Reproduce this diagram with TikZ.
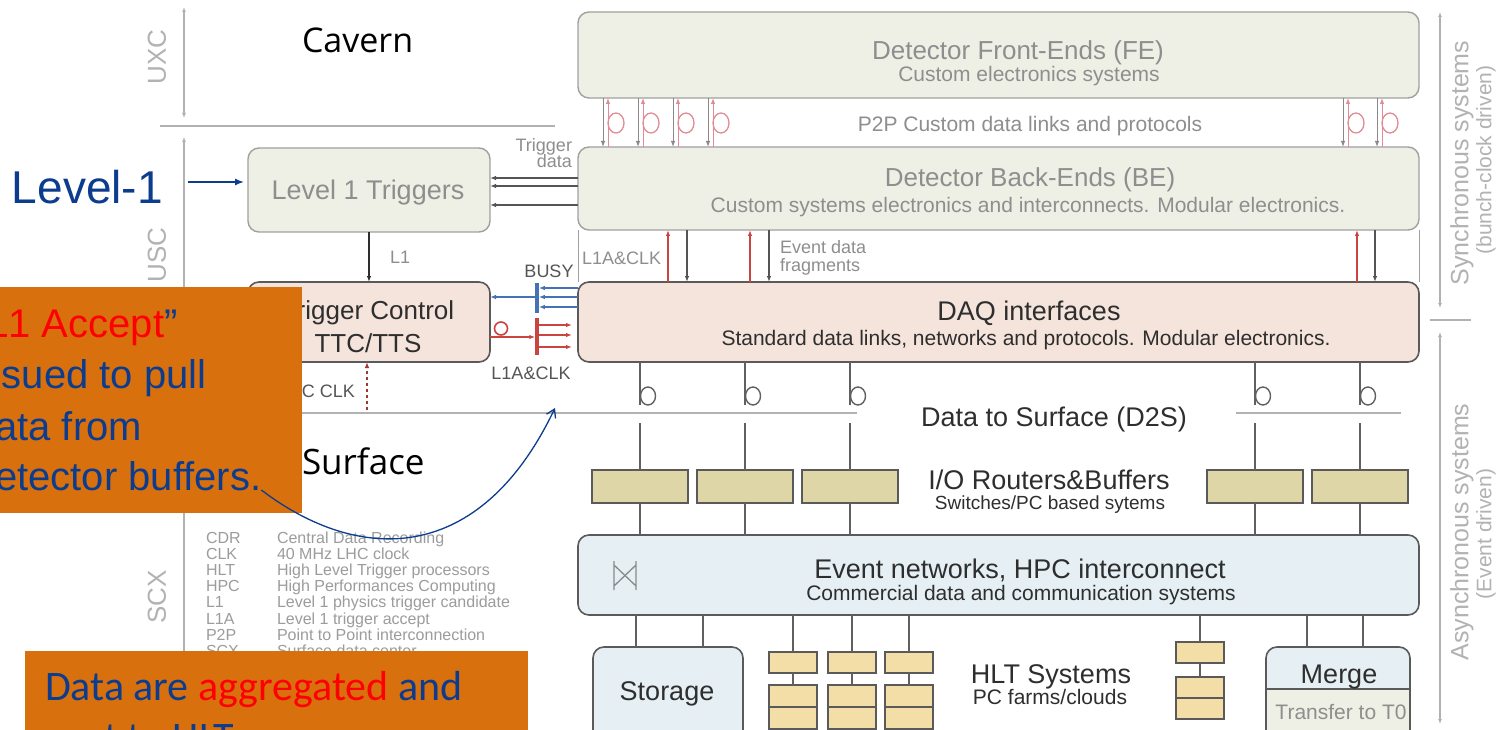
\documentclass[tikz,border=0pt]{standalone}
\usepackage{fontspec}
\setmainfont{Liberation Sans}
\newfontfamily\titlefont{Open Sans}
\newfontfamily\slidefont{Carlito}
\usetikzlibrary{arrows.meta,calc}

\definecolor{sage}{HTML}{EEF0E5}
\definecolor{sageedge}{HTML}{A0A0A0}
\definecolor{rose}{HTML}{F4E4DB}
\definecolor{darkedge}{HTML}{5A5A5A}
\definecolor{routerfill}{HTML}{DED6A6}
\definecolor{nodefill}{HTML}{F3DEA8}
\definecolor{paleblue}{HTML}{E6F0F4}
\definecolor{fadetext}{HTML}{8E8E8E}
\definecolor{darktext}{HTML}{2E2E2E}
\definecolor{labeltext}{HTML}{555555}
\definecolor{axisgray}{HTML}{B2B2B2}
\definecolor{legendgray}{HTML}{9C9C9C}
\definecolor{wire}{HTML}{606060}
\definecolor{linkgray}{HTML}{8A8A8A}
\definecolor{clkred}{HTML}{C9453F}
\definecolor{fibrered}{HTML}{E08C96}
\definecolor{busyblue}{HTML}{4472B4}
\definecolor{navy}{HTML}{0C3C8E}
\definecolor{slideorange}{HTML}{D9700E}
\definecolor{hotred}{HTML}{FF0000}

\newcommand\textpt[1]{\fontsize{#1}{#1}\selectfont}

\begin{document}
\begin{tikzpicture}[x=1pt,y=-1pt,
  every node/.style={inner sep=0pt,outer sep=0pt},
  >={Latex[length=6pt,width=4.5pt]},
  panel/.style={draw=sageedge,fill=sage,line width=1.4pt,rounded corners=11pt,anchor=north west},
  rosepanel/.style={draw=darkedge,fill=rose,line width=1.6pt,rounded corners=11pt,anchor=north west},
  bluepanel/.style={draw=darkedge,fill=paleblue,line width=1.6pt,rounded corners=11pt,anchor=north west},
  router/.style={draw=darkedge,fill=routerfill,line width=1.4pt,minimum width=96pt,minimum height=33pt},
  cpu/.style={draw=darkedge,fill=nodefill,line width=1.2pt,minimum width=48pt,minimum height=21pt},
  wirestyle/.style={draw=wire,line width=1.8pt},
  zoneaxis/.style={draw=axisgray,line width=1.3pt,arrows={Latex[length=5pt,width=4pt]-Latex[length=5pt,width=4pt]}},
  zone/.style={text=axisgray,font=\textpt{26},rotate=90},
  headfade/.style={text=fadetext,font=\textpt{26},anchor=base},
  subfade/.style={text=fadetext,font=\textpt{21},anchor=base},
  headdark/.style={text=darktext,font=\textpt{27},anchor=base},
  subdark/.style={text=darktext,font=\textpt{21},anchor=base},
  tag/.style={text=fadetext,font=\textpt{18}},
  darktag/.style={text=labeltext,font=\textpt{18}},
]
\useasboundingbox (0,0) rectangle (1497,730);
\fill[white] (0,0) rectangle (1497,730);

% ---------- zone markers on the left ----------
\draw[zoneaxis] (184,7) -- (184,118);
\draw[zoneaxis] (184,137) -- (184,404);
\draw[zoneaxis] (184,422) -- (184,724);
\draw[draw=axisgray,line width=1.5pt] (160,126) -- (555,126);
\draw[draw=axisgray,line width=1.5pt] (160,413) -- (857,413);
\draw[draw=axisgray,line width=1.5pt] (1236,413) -- (1401,413);
\node[zone] (uxc) at (157,57) {UXC};
\node[zone] (usc) at (157,255) {USC};
\node[zone] (scx) at (157,597) {SCX};
\node[anchor=base west,font=\titlefont\textpt{34}] (cavern) at (302,53) {Cavern};
\node[anchor=base west,font=\titlefont\textpt{35}] (surface) at (302,474) {Surface};

% ---------- zone markers on the right ----------
\draw[zoneaxis] (1440,12) -- (1440,308);
\draw[draw=axisgray,line width=1.5pt] (1430,320) -- (1471,320);
\draw[zoneaxis] (1440,332) -- (1440,724);
\node[rotate=90,text=axisgray,font=\textpt{25}] (sync) at (1462,163) {Synchronous systems};
\node[rotate=90,text=axisgray,font=\textpt{21}] (syncsub) at (1486,160) {(bunch-clock driven)};
\node[rotate=90,text=axisgray,font=\textpt{25}] (async) at (1462,532) {Asynchronous systems};
\node[rotate=90,text=axisgray,font=\textpt{21}] (asyncsub) at (1486,534) {(Event driven)};

% ---------- main panels ----------
\node[panel,minimum width=841pt,minimum height=86pt] (fe) at (578,12) {};
\node[panel,minimum width=841pt,minimum height=83pt] (be) at (578,147) {};
\node[panel,minimum width=242pt,minimum height=84pt] (l1t) at (248,148) {};
\node[rosepanel,minimum width=242pt,minimum height=80pt] (ttc) at (248,282) {};
\node[rosepanel,minimum width=841pt,minimum height=80pt] (daq) at (578,282) {};
\node[bluepanel,minimum width=841pt,minimum height=80pt] (evn) at (578,535) {};
\node[bluepanel,minimum width=150pt,minimum height=100pt] (storage) at (593,647) {};
\node[bluepanel,minimum width=144pt,minimum height=100pt] (merge) at (1266,647) {};
\node[draw=darkedge,fill=sage,line width=1.4pt,anchor=north west,minimum width=144pt,minimum height=60pt] (mergelow) at (1266,689) {};
\draw[draw=sageedge,line width=1pt] (be.south west) -- (daq.north west);
\draw[draw=sageedge,line width=1pt] (be.south east) -- (daq.north east);

% panel texts
\node[headfade] (fetitle) at (1018,60) {Detector Front-Ends (FE)};
\node[subfade] (fesub) at (1029,82) {Custom electronics systems};
\node[subfade] (p2p) at (1030,132) {P2P Custom data links and protocols};
\node[headfade] (betitle) at (1030,187) {Detector Back-Ends (BE)};
\node[subfade] (besub) at (1028,213) {Custom systems electronics and interconnects. Modular electronics.};
\node[headfade,font=\textpt{27}] (l1title) at (368,200) {Level 1 Triggers};
\node[headdark,font=\textpt{26}] (ttc1) at (368,319) {Trigger Control};
\node[headdark,font=\textpt{26}] (ttc2) at (368,352) {TTC/TTS};
\node[headdark] (daqtitle) at (1029,320) {DAQ interfaces};
\node[subdark] (daqsub) at (1026,345) {Standard data links, networks and protocols. Modular electronics.};
\node[headdark] (d2s) at (1054,426) {Data to Surface (D2S)};
\node[headdark] (iotitle) at (1049,489) {I/O Routers\&Buffers};
\node[subdark,font=\textpt{19}] (iosub) at (1050,509) {Switches/PC based sytems};
\node[headdark] (evntitle) at (1020,578) {Event networks, HPC interconnect};
\node[subdark] (evnsub) at (1021,600) {Commercial data and communication systems};
\node[headdark] (hlttitle) at (1051,683) {HLT Systems};
\node[subdark] (hltsub) at (1050,704) {PC farms/clouds};
\node[headdark] (storagetxt) at (667,700) {Storage};
\node[headdark] (mergetxt) at (1339,683) {Merge};
\node[subfade] (t0txt) at (1341,719) {Transfer to T0};

% switch symbol in the event network
\draw[draw=linkgray,line width=1.3pt] (614,561) -- (614,590) (636,561) -- (636,590)
  (614,565) -- (636,586) (614,586) -- (636,565);

% ---------- P2P links FE <-> BE ----------
\foreach \x in {603,638,673,708,1343,1377} {
  \coordinate (pg\x) at (\x,0);
  \coordinate (pr\x) at (\x+5,0);
  \draw[draw=linkgray,line width=1pt,->] (fe.south -| pg\x) -- (be.north -| pg\x);
  \draw[draw=fibrered,line width=1pt,->] (be.north -| pr\x) -- (fe.south -| pr\x);
  \draw[draw=fibrered,line width=1.3pt] (\x+13,123) ellipse [x radius=8,y radius=10];
}

% ---------- BE <-> DAQ ----------
\foreach \x in {668,750,1357} {
  \coordinate (cu\x) at (\x,0);
  \draw[draw=clkred,line width=1.8pt,->] (daq.north -| cu\x) -- (be.south -| cu\x);
}
\foreach \x in {687,769,1375} {
  \coordinate (cd\x) at (\x,0);
  \draw[draw=labeltext,line width=1.5pt,->] (be.south -| cd\x) -- (daq.north -| cd\x);
}
\node[tag,anchor=base west] (l1aclk) at (582,265) {L1A\&CLK};
\node[tag,anchor=base west] (evd1) at (780,254) {Event data};
\node[tag,anchor=base west] (evd2) at (780,272) {fragments};

% ---------- trigger data BE -> Level 1 ----------
\foreach \y in {178,186,205} {
  \coordinate (td\y) at (0,\y);
  \draw[draw=labeltext,line width=1.3pt,->] (be.west |- td\y) -- (l1t.east |- td\y);
}
\node[tag,anchor=base east] (trg1) at (572,152) {Trigger};
\node[tag,anchor=base east] (trg2) at (572,168) {data};

% L1 accept path
\draw[draw=darktext,line width=1.5pt,->] (l1t.south) -- (ttc.north);
\node[tag,anchor=base west] (l1lbl) at (390,264) {L1};

% ---------- BUSY ----------
\node[fill=busyblue,minimum width=3.5pt,minimum height=30pt] (busybar) at (537,298) {};
\foreach \y in {288,297,307} {
  \coordinate (by\y) at (0,\y);
  \draw[draw=busyblue,line width=1.4pt,->] (daq.west |- by\y) -- (busybar.east |- by\y);
}
\coordinate (busyline) at (0,297);
\draw[draw=busyblue,line width=1.8pt,->] (busybar.west |- busyline) -- (ttc.east |- busyline);
\node[darktag,anchor=base] (busylbl) at (549,277) {BUSY};

% ---------- L1A & CLK distribution ----------
\node[fill=clkred,minimum width=3.5pt,minimum height=37pt] (l1abar) at (537,336.5) {};
\coordinate (l1aline) at (0,337);
\draw[draw=clkred,line width=1.8pt,->] (ttc.east |- l1aline) -- (l1abar.west |- l1aline);
\draw[draw=clkred,line width=1.6pt] (501,328.5) circle [radius=6.5];
\foreach \y in {325,335,347} {
  \coordinate (ry\y) at (0,\y);
  \draw[draw=clkred,line width=1.6pt,->,shorten >=6pt] (l1abar.east |- ry\y) -- (daq.west |- ry\y);
}
\node[darktag,anchor=base] (l1aclk2) at (531,379) {L1A\&CLK};

% TTC clock input
\coordinate (clkin) at (367,410);
\draw[draw=clkred!80!black,line width=1.6pt,dashed,->] (clkin) -- (ttc.south -| clkin);
\node[darktag,anchor=base east] (ttcclk) at (355,397) {TTC CLK};

% ---------- data to surface, routers, event network ----------
\foreach \x [count=\i] in {640,745,850,1255,1360} {
  \node[router] (rt\i) at (\x,486.5) {};
  \coordinate (ds\i) at (\x,405);
  \coordinate (dt\i) at (\x,423);
  \draw[wirestyle] (daq.south -| ds\i) -- (ds\i);
  \draw[draw=wire,line width=1.4pt] (\x+8,396) ellipse [x radius=7.5,y radius=9];
  \draw[wirestyle] (dt\i) -- (rt\i.north);
  \draw[wirestyle] (rt\i.south) -- (evn.north -| rt\i);
}

% storage links
\foreach \x in {636,703} {
  \coordinate (sl\x) at (\x,0);
  \draw[wirestyle] (evn.south -| sl\x) -- (storage.north -| sl\x);
}
% HLT processing nodes
\foreach \c [count=\i] in {793,852,909} {
  \node[cpu] (hc\i top) at (\c,662.5) {};
  \node[cpu,minimum height=22pt] (hc\i low) at (\c,696) {};
  \node[cpu,minimum height=22pt] (hc\i base) at (\c,718) {};
  \draw[wirestyle] (evn.south -| hc\i top) -- (hc\i top.north);
  \draw[wirestyle] (hc\i top.south) -- (hc\i low.north);
}
\node[cpu] (hc4top) at (1200,652.5) {};
\node[cpu] (hc4low) at (1200,687.5) {};
\node[cpu] (hc4base) at (1200,708.5) {};
\draw[wirestyle] (evn.south -| hc4top) -- (hc4top.north);
\draw[wirestyle] (hc4top.south) -- (hc4low.north);
% merge links
\foreach \x in {1307,1363} {
  \coordinate (ml\x) at (\x,0);
  \draw[wirestyle] (evn.south -| ml\x) -- (merge.north -| ml\x);
}

% ---------- glossary ----------
\foreach \ab/\desc [count=\i from 0] in {CDR/Central Data Recording,CLK/40 MHz LHC clock,
  HLT/High Level Trigger processors,HPC/High Performances Computing,
  L1/Level 1 physics trigger candidate,L1A/Level 1 trigger accept,
  P2P/Point to Point interconnection,SCX/Surface data center} {
  \node[anchor=base west,text=legendgray,font=\textpt{16}] (lga\i) at (206,543+16.2*\i) {\ab};
  \node[anchor=base west,text=legendgray,font=\textpt{16}] (lgb\i) at (277,543+16.2*\i) {\desc};
}

% ---------- Level-1 pointer ----------
\node[anchor=base west,text=navy,font=\textpt{46}] (lvl) at (12,204) {Level-1};
\coordinate (lvlarrow) at (188,182);
\draw[draw=navy,line width=1.4pt,-{Latex[length=9pt,width=7pt]},shorten >=4pt] (lvlarrow) -- (lvlarrow -| l1t.west);

% ---------- call-out boxes ----------
\node[fill=slideorange,anchor=north west,minimum width=302pt,minimum height=226pt] (ob1) at (0,287) {};
\node[anchor=base west,text=navy,font=\textpt{40}] (acc1) at (-27,337) {“\textcolor{hotred}{L1 Accept}”};
\node[anchor=base west,text=navy,font=\textpt{40}] (acc2) at (-27,388) {issued to pull};
\node[anchor=base west,text=navy,font=\textpt{40}] (acc3) at (-27,440) {data from};
\node[anchor=base west,text=navy,font=\textpt{40}] (acc4) at (-27,490) {detector buffers.};

\node[fill=slideorange,anchor=north west,minimum width=503pt,minimum height=95pt] (ob2) at (25,651) {};
\node[anchor=base west,text=navy,font=\slidefont\textpt{42}] (agg1) at (45,700) {Data are \textcolor{hotred}{aggregated} and};
\node[anchor=base west,text=navy,font=\slidefont\textpt{42}] (agg2) at (45,751) {sent to HLT};

\coordinate (calloutend) at (555,408);
\draw[draw=navy,line width=1.3pt,-{Straight Barb[length=8pt,width=10pt]}]
  (acc4.base east) .. controls (360,565) and (480,565) .. (calloutend);
\end{tikzpicture}
\end{document}
